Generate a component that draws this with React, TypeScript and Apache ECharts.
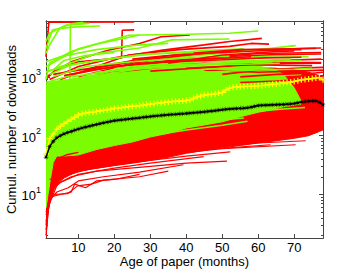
import React, { useEffect, useRef } from 'react';
import * as echarts from 'echarts';

const FONT = '"Liberation Sans", Arial, Helvetica, sans-serif';
const RED = '#FF0000';
const GREEN = '#7CFC00';
const YELLOW = '#FFFF00';
const AXIS = '#444444';

// ticks
const xTickValues = [10, 20, 30, 40, 50, 60, 70];
const yMajorTickValues = [10, 100, 1000];
const yMinorTickValues = [2, 3, 4, 5, 6, 7, 8, 9, 20, 30, 40, 50, 60, 70, 80, 90, 200, 300, 400, 500, 600, 700, 800, 900, 2000, 3000, 4000, 5000, 6000, 7000, 8000];

// months (x)
const months = [1, 2, 3, 4, 5, 6, 7, 8, 9, 10, 11, 12, 13, 14, 15, 16, 17, 18, 19, 20, 21, 22, 23, 24, 25, 26, 27, 28, 29, 30, 31, 32, 33, 34, 35, 36, 37, 38, 39, 40, 41, 42, 43, 44, 45, 46, 47, 48, 49, 50, 51, 52, 53, 54, 55, 56, 57, 58, 59, 60, 61, 62, 63, 64, 65, 66, 67, 68, 69, 70, 71, 72, 73, 74, 75, 76, 77, 78];

// yellow "+" line
const yellowMean = [49, 89, 107, 128, 145, 160, 175, 190, 205, 225, 235, 242, 248, 252, 258, 263, 270, 276, 282, 290, 295, 300, 305, 310, 315, 318, 323, 330, 338, 345, 350, 356, 362, 368, 375, 380, 383, 386, 390, 395, 405, 430, 455, 470, 490, 500, 505, 515, 525, 540, 600, 645, 665, 675, 680, 685, 690, 695, 700, 705, 712, 720, 735, 745, 755, 770, 785, 800, 815, 835, 860, 890, 905, 920, 935, 955, 975, 890];

// black "*" line
const blackMean = [43, 65, 80, 92, 100, 107, 113, 118, 124, 130, 135, 140, 145, 150, 155, 160, 165, 170, 175, 180, 183, 186, 189, 192, 195, 198, 201, 205, 208, 212, 215, 218, 221, 224, 227, 229, 231, 234, 236, 239, 242, 245, 248, 251, 254, 258, 262, 266, 271, 276, 280, 284, 287, 289, 291, 293, 298, 305, 315, 325, 328, 330, 332, 334, 336, 338, 340, 343, 346, 352, 362, 372, 380, 385, 388, 390, 372, 335];

// dense red bundle
const redBandX = [1, 1.3, 1.6, 2, 3, 4, 6, 8, 10, 15, 20, 25, 30, 35, 40, 45, 50, 55, 60, 65, 70, 74, 77, 78];
const redBandLow = [1.9, 3, 5, 8, 12, 15, 19, 22, 25, 28, 31, 34, 38, 43, 50, 56, 62, 68, 75, 82, 90, 100, 118, 125];
const redBandHigh = [6, 12, 30, 60, 150, 300, 500, 600, 700, 800, 900, 1000, 1100, 1200, 1300, 1350, 1400, 1450, 1450, 1400, 1300, 1200, 1050, 1000];

// dense green bundle
const greenBandX = [1, 1.5, 2, 3, 4, 6, 8, 10, 15, 20, 25, 30, 35, 40, 45, 50, 55, 60, 64, 67, 70, 72];
const greenBandLow = [6, 9, 15, 35, 45, 45, 46, 47, 58, 68, 78, 95, 110, 135, 152, 172, 210, 250, 280, 310, 330, 345];
const greenBandHigh = [750, 780, 800, 830, 850, 880, 920, 960, 1080, 1180, 1300, 1380, 1420, 1470, 1500, 1550, 1550, 1500, 1400, 1100, 650, 380];

// individual red curves above the bundle
const redUpperLines = [
  [[1, 2200], [1.8, 8500], [25.5, 8600]],
  [[1, 900], [4, 1400], [10, 1800], [16, 1950], [22, 2100], [22.2, 6200], [25.5, 6300]],
  [[1, 1000], [8, 1800], [18, 2800], [27, 3700], [33, 4800], [41, 5150]],
  [[2, 900], [10, 1500], [20, 2100], [33.5, 2850], [45, 3500], [52, 4000], [61, 4500]],
  [[5, 900], [15, 1500], [24, 2350], [38, 2900], [52, 3300], [58, 3700], [63, 3600]],
  [[10, 1000], [25, 1700], [40, 2300], [55, 2850], [77.5, 3100]],
  [[15, 1100], [30, 1650], [45, 2100], [60, 2500], [77.5, 2600]],
  [[20, 1200], [35, 1500], [55, 1750], [77.5, 1750]],
  [[30, 1250], [50, 1500], [65, 1900], [77.5, 2000]],
  [[45, 1300], [60, 1200], [70, 1250], [78, 1300]],
  [[40, 1400], [55, 1550], [68, 1700], [77.5, 1700]],
  [[55, 800], [65, 850], [72, 900], [78, 1050]],
  [[3, 1100], [10, 1300], [20, 1600], [30, 2000], [42, 2400]],
  [[25, 2000], [35, 2300], [50, 2600], [62, 2800], [72, 2900]],
  [[8, 1100], [20, 1500], [35, 1900], [50, 2200], [65, 2400], [77.5, 2450]],
  [[12, 1300], [25, 1900], [40, 2500], [55, 2900], [70, 3000], [76, 3050]],
  [[20, 1500], [35, 1800], [50, 1950], [62, 2100], [72, 2150]],
  [[30, 1500], [45, 1700], [60, 1600], [75, 1550]],
  [[35, 1700], [50, 2350], [65, 2700], [70, 2750]],
  [[6, 1050], [15, 1350], [28, 1700], [45, 2000], [58, 2200]],
  [[50, 1100], [60, 1300], [70, 1400], [78, 1450]],
  [[55, 1000], [65, 1100], [75, 1150], [78, 1200]],
];

// individual green curves above the bundle
const greenUpperLines = [
  [[1, 2500], [2, 3500], [4.8, 6700], [8, 8000], [11.3, 8500]],
  [[1, 4000], [2, 5500], [6.6, 7600], [13.1, 8100]],
  [[1, 3000], [2.8, 6300], [8, 7000], [16, 7300]],
  [[1, 500], [5, 600], [7.6, 650], [7.8, 7800], [12, 8200]],
  [[1, 900], [2, 1730], [8, 2700], [15, 3600], [27, 5160]],
  [[1, 1500], [10, 3000], [24, 5100], [40, 5300], [52, 5500], [60, 6000]],
  [[1, 1200], [15, 2500], [27, 3100], [36, 4250], [52, 4400]],
  [[1, 800], [20, 1700], [35, 2100], [50.8, 2520], [70.4, 3400]],
  [[1, 700], [25, 1500], [45, 1900], [59, 2150], [74, 2200]],
  [[5, 800], [30, 1500], [50, 2000], [65, 2300], [76, 2450]],
  [[10, 900], [30, 1150], [50, 1400], [61, 1550]],
  [[40, 900], [60, 1000], [72, 1100]],
  [[1, 1800], [5, 2200], [15, 2900], [27, 3500], [35, 3700]],
  [[1, 1230], [10, 1700], [27, 2360], [45, 2800], [56, 3000]],
  [[20, 1400], [40, 1800], [60, 1900], [69, 2000]],
  [[50, 700], [60, 750], [68, 780]],
  [[3, 1300], [6, 1900], [12, 2300], [20, 2600]],
  [[3, 1000], [12, 1500], [25, 1800], [40, 2100], [52, 2250]],
  [[8, 1000], [20, 1300], [35, 1600], [50, 1700], [64, 1800]],
  [[15, 1200], [30, 1400], [45, 1600], [58, 1650], [66, 1700]],
  [[2, 1100], [8, 1600], [18, 2000], [30, 2450], [42, 2600]],
  [[25, 1450], [40, 1550], [55, 1800], [72, 1900]],
  [[45, 1200], [58, 1300], [70, 1350], [75, 1400]],
];

// sparse red curves at the bottom edge
const redLowerLines = [
  [[1, 2], [1.5, 5], [2, 9], [3, 10], [7, 10.3], [9.8, 14], [13.6, 15], [17, 17.5], [27, 20], [35, 25]],
  [[1, 2.5], [2, 8], [4, 11], [7.2, 13], [10, 17], [17, 20], [27, 24], [39.2, 32]],
  [[1, 3], [2, 11], [5, 16], [10, 22], [20, 28], [30, 34], [44.8, 44]],
  [[1, 3.5], [3, 14], [8, 20], [15, 25], [30, 30], [40, 34], [51.3, 37]],
  [[1, 4.5], [4, 18], [10, 25], [25, 35], [40, 45], [52.2, 53]],
  [[1, 5], [5, 20], [20, 35], [40, 55], [63.4, 70]],
  [[2, 18], [10, 30], [30, 45], [50, 60], [70.4, 70]],
  [[3, 22], [15, 38], [40, 60], [60, 75], [73.2, 82]],
  [[5, 28], [20, 45], [50, 75], [71.8, 97]],
  [[8, 35], [30, 60], [60, 95], [76.4, 114]],
  [[2, 9], [5, 10], [8, 11], [9, 15], [12, 13], [15, 17], [20, 18], [27, 22]],
];

const greenStreaks = [
  [[30, 100], [40, 125], [50, 150], [57, 175]],
  [[45, 160], [52, 190], [56, 200]],
  [[60, 260], [66, 280], [73, 300]],
];
const redStreaks = [
  [[4, 40], [7, 48], [10, 52]],
];

const PLUS = 'path://M2,0H3V2H5V3H3V5H2V3H0V2H2Z';
const STAR = 'path://M20,10L12.77,11.15L17.07,17.07L11.15,12.77L10,20L8.85,12.77L2.93,17.07L7.23,11.15L0,10L7.23,8.85L2.93,2.93L8.85,7.23L10,0L11.15,7.23L17.07,2.93L12.77,8.85Z';

function bandSeries(xs: number[], lo: number[], hi: number[], color: string, z: number) {
  return {
    type: 'custom',
    coordinateSystem: 'cartesian2d',
    xAxisIndex: 0,
    yAxisIndex: 0,
    data: [[xs[0], lo[0]]],
    clip: true,
    silent: true,
    z,
    renderItem: (_params: any, api: any) => {
      const pts: number[][] = [];
      for (let i = 0; i < xs.length; i++) pts.push(api.coord([xs[i], hi[i]]));
      for (let i = xs.length - 1; i >= 0; i--) pts.push(api.coord([xs[i], lo[i]]));
      return { type: 'polygon', shape: { points: pts }, style: { fill: color, stroke: color, lineWidth: 1 } };
    },
  };
}

function curve(pts: number[][], color: string, width: number, z: number) {
  return {
    type: 'line',
    data: pts,
    symbol: 'none',
    showSymbol: false,
    silent: true,
    clip: true,
    z,
    xAxisIndex: 0,
    yAxisIndex: 0,
    lineStyle: { color, width },
  };
}

export default function App() {
  const ref = useRef<HTMLDivElement>(null);
  useEffect(() => {
    document.body.style.margin = '0';
    if (!ref.current) return;
    const chart = echarts.init(ref.current, null, { renderer: 'svg' });

    const series: any[] = [];
    series.push(bandSeries(redBandX, redBandLow, redBandHigh, RED, 1));
    series.push(bandSeries(greenBandX, greenBandLow, greenBandHigh, GREEN, 2));
    redLowerLines.forEach((l) => series.push(curve(l, RED, 1.2, 3)));
    greenStreaks.forEach((l) => series.push(curve(l, GREEN, 1.5, 3)));
    redStreaks.forEach((l) => series.push(curve(l, RED, 1.5, 3)));
    const n = Math.max(redUpperLines.length, greenUpperLines.length);
    for (let i = 0; i < n; i++) {
      if (redUpperLines[i]) series.push(curve(redUpperLines[i], RED, 1.6, 4));
      if (greenUpperLines[i]) series.push(curve(greenUpperLines[i], GREEN, 1.6, 4));
    }
    series.push({
      type: 'line',
      data: months.map((m, i) => [m, yellowMean[i]]),
      symbol: PLUS,
      symbolSize: 6,
      showAllSymbol: true,
      silent: true,
      z: 5,
      lineStyle: { color: YELLOW, width: 1.5 },
      itemStyle: { color: YELLOW, borderWidth: 0 },
    });
    series.push({
      type: 'line',
      data: months.map((m, i) => [m, blackMean[i]]),
      symbol: STAR,
      symbolSize: 6,
      showAllSymbol: true,
      silent: true,
      z: 6,
      lineStyle: { color: '#000', width: 1.5 },
      itemStyle: { color: '#000', borderWidth: 0 },
    });

    const xBase = {
      type: 'value',
      min: 1,
      max: 78,
      splitLine: { show: false },
      axisLine: { show: true, onZero: false, lineStyle: { color: AXIS, width: 1 } },
      axisTick: { show: true, inside: true, length: 4, customValues: xTickValues, lineStyle: { color: AXIS } },
    };
    const yBase = {
      type: 'log',
      logBase: 10,
      min: 1.82,
      max: 8900,
      splitLine: { show: false },
      minorTick: { show: false },
      axisLine: { show: true, onZero: false, lineStyle: { color: AXIS, width: 1 } },
    };

    chart.setOption({
      animation: false,
      grid: { left: 46, right: 34, top: 21, bottom: 31, containLabel: false, outerBoundsMode: 'none' },
      xAxis: [
        {
          ...xBase,
          position: 'bottom',
          axisLabel: { show: true, customValues: xTickValues, color: '#000', fontSize: 13, lineHeight: 13, fontFamily: FONT, margin: 3 },
          name: 'Age of paper (months)',
          nameLocation: 'middle',
          nameGap: 17,
          nameMoveOverlap: false,
          nameTextStyle: { color: '#000', fontSize: 13, lineHeight: 13, fontFamily: FONT },
        },
        { ...xBase, position: 'top', axisLabel: { show: false } },
      ],
      yAxis: [
        {
          ...yBase,
          position: 'left',
          axisTick: { show: true, inside: true, length: 4, customValues: yMajorTickValues, lineStyle: { color: AXIS } },
          axisLabel: {
            show: true,
            customValues: yMajorTickValues,
            margin: 5,
            formatter: (v: number) => `{b|10}{s|${Math.round(Math.log10(v))}}`,
            rich: {
              b: { fontSize: 13, fontFamily: FONT, color: '#000', verticalAlign: 'bottom', lineHeight: 16 },
              s: { fontSize: 9, fontFamily: FONT, color: '#000', verticalAlign: 'bottom', lineHeight: 10, padding: [0, 0, 8, 0] },
            },
          },
          name: 'Cumul. number of downloads',
          nameLocation: 'middle',
          nameGap: 28,
          nameMoveOverlap: false,
          nameTextStyle: { color: '#000', fontSize: 13, lineHeight: 13, fontFamily: FONT },
        },
        {
          ...yBase,
          position: 'left',
          axisTick: { show: true, inside: true, length: 2, customValues: yMinorTickValues, lineStyle: { color: AXIS } },
          axisLabel: { show: false },
        },
        {
          ...yBase,
          position: 'right',
          axisTick: { show: true, inside: true, length: 4, customValues: yMajorTickValues, lineStyle: { color: AXIS } },
          axisLabel: { show: false },
        },
        {
          ...yBase,
          position: 'right',
          axisTick: { show: true, inside: true, length: 2, customValues: yMinorTickValues, lineStyle: { color: AXIS } },
          axisLabel: { show: false },
        },
      ],
      series,
    });
    return () => chart.dispose();
  }, []);
  return <div ref={ref} style={{ width: 357, height: 269 }} />;
}
